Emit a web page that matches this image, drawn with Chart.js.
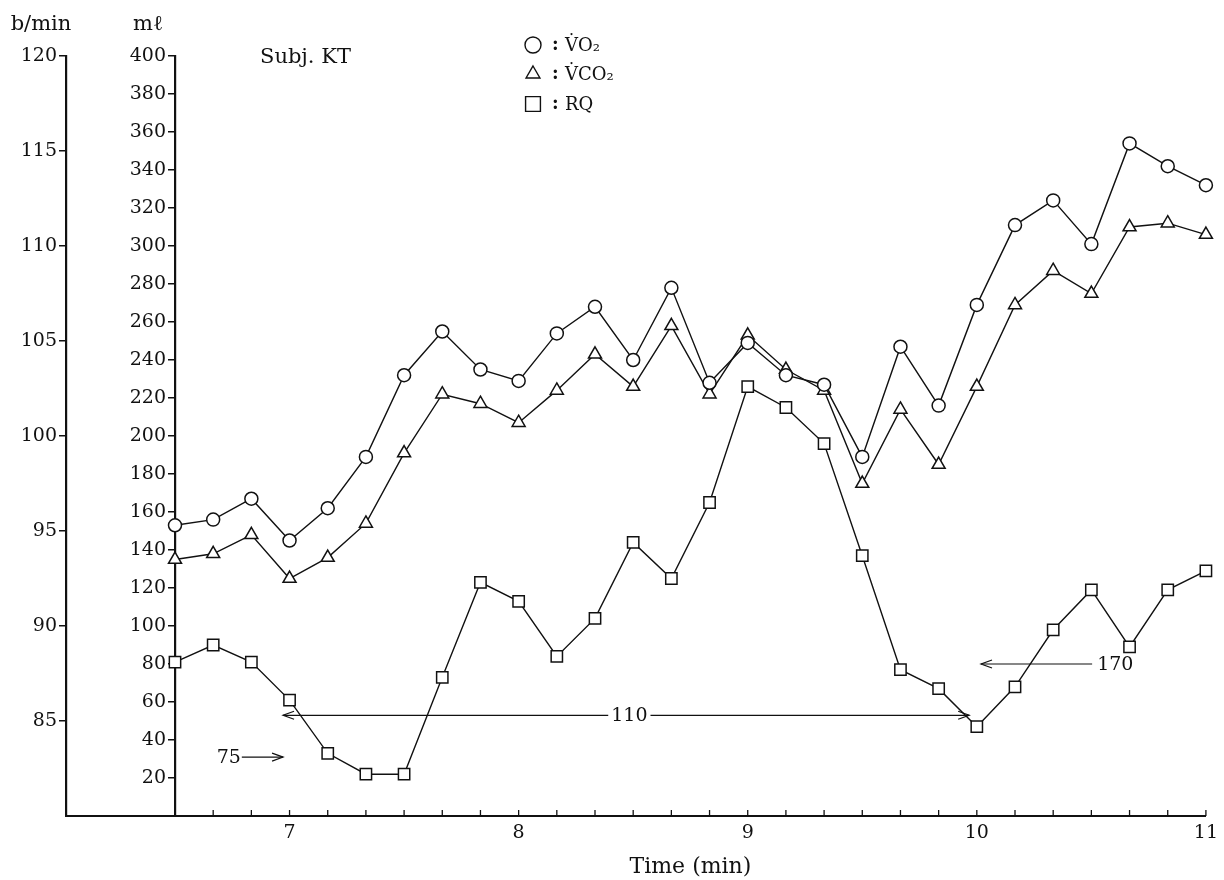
<!DOCTYPE html>
<html>
<head>
<meta charset="utf-8">
<title>Subj. KT</title>
<script src="https://cdn.jsdelivr.net/npm/chart.js@4.4.1/dist/chart.umd.min.js"></script>
<style>
  html, body { margin: 0; padding: 0; background: #fff; }
  #wrap { width: 1224px; height: 880px; }
</style>
</head>
<body>
<div id="wrap"><canvas id="myChart" width="1224" height="880"></canvas></div>
<script>
// 10 s samples from 6:30 to 11:00
const timeLabels = ["6:30","6:40","6:50","7:00","7:10","7:20","7:30","7:40","7:50",
  "8:00","8:10","8:20","8:30","8:40","8:50","9:00","9:10","9:20","9:30","9:40","9:50",
  "10:00","10:10","10:20","10:30","10:40","10:50","11:00"];

const vo2 = [153,156,167,145,162,189,232,255,235,229,254,268,240,278,228,249,232,227,189,247,216,269,311,324,301,354,342,332];
const vco2 = [135,138,148,125,136,154,191,222,217,207,224,243,226,258,222,253,235,224,175,214,185,226,269,287,275,310,312,306];
const rq = [81,90,81,61,33,22,22,73,123,113,84,104,144,125,165,226,215,196,137,77,67,47,68,98,119,89,119,129];

const mlTicks = [20,40,60,80,100,120,140,160,180,200,220,240,260,280,300,320,340,360,380,400];
const hrTicks = [85,90,95,100,105,110,115,120];

// heart rate notes (b/min), x in sample index, y in ml
const hrNotes = [
  { text: "75", x0: 1.75, x1: 2.83, y: 31, textX: 1.75, align: "right", heads: "end" },
  { text: "110", x0: 2.83, x1: 20.8, y: 53, textX: 11.9, align: "center", heads: "both" },
  { text: "170", x0: 24.02, x1: 21.11, y: 80, textX: 24.1, align: "left", heads: "end" }
];

const ink = "#111";
const serif = "'DejaVu Serif', 'Liberation Serif', serif";

const figureExtras = {
  id: "figureExtras",
  afterDraw(chart) {
    const ctx = chart.ctx;
    const area = chart.chartArea;
    const x = chart.scales.x;
    const y = chart.scales.y;
    const hr = chart.scales.hr;
    ctx.save();
    ctx.strokeStyle = ink;
    ctx.fillStyle = ink;

    // inward ticks on the time axis
    ctx.lineWidth = 1.3;
    x.ticks.forEach((t, i) => {
      const px = x.getPixelForTick(i);
      ctx.beginPath();
      ctx.moveTo(px, area.bottom);
      ctx.lineTo(px, area.bottom - 6);
      ctx.stroke();
    });

    // base line runs on to the heart rate axis
    ctx.lineWidth = 2;
    ctx.beginPath();
    ctx.moveTo(hr.right - 1, area.bottom);
    ctx.lineTo(area.left, area.bottom);
    ctx.stroke();

    // unit labels above the axes
    ctx.font = "21px " + serif;
    ctx.textAlign = "center";
    ctx.textBaseline = "middle";
    ctx.fillText("b/min", hr.right - 25, 25);
    ctx.fillText("m\u2113", y.right - 27, 25);

    ctx.textAlign = "left";
    ctx.fillText("Subj. KT", area.left + 85, 58);

    // legend
    const rows = [
      { ds: chart.data.datasets[0], yy: 45 },
      { ds: chart.data.datasets[1], yy: 74 },
      { ds: chart.data.datasets[2], yy: 104 }
    ];
    ctx.font = "18px " + serif;
    rows.forEach(r => {
      const lx = area.left + 358;
      ctx.fillStyle = "#fff";
      ctx.strokeStyle = ink;
      ctx.lineWidth = 1.4;
      Chart.helpers.drawPoint(ctx, {
        pointStyle: r.ds.pointStyle,
        radius: r.ds.pointStyle === "rect" ? 10.5 : 8,
        borderWidth: 1.4,
        rotation: 0
      }, lx, r.yy);
      ctx.fillStyle = ink;
      ctx.font = "bold 18px " + serif;
      ctx.fillText(":", lx + 19, r.yy);
      ctx.font = "18px " + serif;
      ctx.fillText(r.ds.label, lx + 32, r.yy + 1);
    });

    // heart rate arrows
    ctx.font = "19px " + serif;
    ctx.lineWidth = 1.2;
    const head = (px, py, dir) => {
      ctx.beginPath();
      ctx.moveTo(px - dir * 11, py - 4);
      ctx.lineTo(px, py);
      ctx.lineTo(px - dir * 11, py + 4);
      ctx.stroke();
    };
    hrNotes.forEach(n => {
      const py = y.getPixelForValue(n.y);
      const p0 = x.getPixelForValue(n.x0);
      const p1 = x.getPixelForValue(n.x1);
      const tx = x.getPixelForValue(n.textX);
      ctx.beginPath();
      ctx.moveTo(p0, py);
      ctx.lineTo(p1, py);
      ctx.stroke();
      const dir = p1 > p0 ? 1 : -1;
      head(p1, py, dir);
      if (n.heads === "both") head(p0, py, -dir);
      ctx.textAlign = n.align;
      if (n.align === "center") {
        const w = ctx.measureText(n.text).width;
        ctx.fillStyle = "#fff";
        ctx.fillRect(tx - w / 2 - 3, py - 10, w + 6, 20);
        ctx.fillStyle = ink;
      }
      ctx.fillText(n.text, n.align === "right" ? tx - 1 : n.align === "left" ? tx + 2 : tx, py + 1);
    });
    ctx.restore();
  }
};

const ctx = document.getElementById("myChart").getContext("2d");
const myChart = new Chart(ctx, {
  type: "line",
  data: {
    labels: timeLabels,
    datasets: [
      {
        label: "V\u0307O\u2082",
        data: vo2,
        pointStyle: "circle",
        pointRadius: 6.5,
        yAxisID: "y"
      },
      {
        label: "V\u0307CO\u2082",
        data: vco2,
        pointStyle: "triangle",
        pointRadius: 7.5,
        yAxisID: "y"
      },
      {
        label: "RQ",
        data: rq,
        pointStyle: "rect",
        pointRadius: 8,
        yAxisID: "y"
      }
    ]
  },
  options: {
    responsive: false,
    animation: false,
    devicePixelRatio: 1,
    layout: { padding: { top: 56, right: 17, left: 0, bottom: 0 } },
    elements: {
      line: { borderColor: ink, borderWidth: 1.4, tension: 0, fill: false },
      point: { backgroundColor: "#fff", borderColor: ink, borderWidth: 1.5, hoverRadius: 6.5 }
    },
    plugins: {
      legend: { display: false },
      tooltip: { enabled: false }
    },
    scales: {
      x: {
        type: "category",
        offset: false,
        grid: { drawOnChartArea: false, drawTicks: false },
        border: { display: true, color: ink, width: 2 },
        ticks: {
          autoSkip: false,
          maxRotation: 0,
          padding: 6,
          color: ink,
          font: { family: serif, size: 19 },
          callback: function (val) {
            const lab = this.getLabelForValue(val);
            return lab.endsWith(":00") ? lab.split(":")[0] : "";
          }
        },
        title: {
          display: true,
          text: "Time (min)",
          color: ink,
          font: { family: serif, size: 22 },
          padding: { top: 0, bottom: 0 }
        },
        afterFit: (scale) => { scale.height = 64; }
      },
      y: {
        position: "left",
        weight: 0,
        min: 0,
        max: 400,
        afterBuildTicks: (scale) => { scale.ticks = mlTicks.map(v => ({ value: v })); },
        grid: { drawOnChartArea: false, drawTicks: true, tickLength: 7, color: ink, lineWidth: 1.5 },
        border: { display: true, color: ink, width: 2.2 },
        ticks: { padding: 2, color: ink, font: { family: serif, size: 19 } },
        afterFit: (scale) => { scale.width = 109; }
      },
      hr: {
        position: "left",
        weight: 10,
        min: 80,
        max: 120,
        afterBuildTicks: (scale) => { scale.ticks = hrTicks.map(v => ({ value: v })); },
        grid: { drawOnChartArea: false, drawTicks: true, tickLength: 7, color: ink, lineWidth: 1.5 },
        border: { display: true, color: ink, width: 2.2 },
        ticks: { padding: 2, color: ink, font: { family: serif, size: 19 } },
        afterFit: (scale) => { scale.width = 66; }
      }
    }
  },
  plugins: [figureExtras]
});
</script>
</body>
</html>
